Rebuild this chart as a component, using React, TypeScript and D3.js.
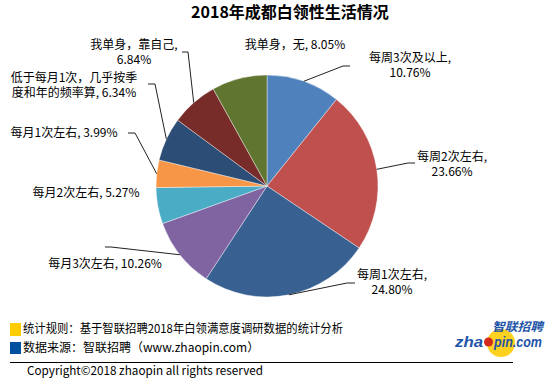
import React from 'react';
import * as d3 from 'd3';

const categories = [
  '每周3次及以上',
  '每周2次左右',
  '每周1次左右',
  '每月3次左右',
  '每月2次左右',
  '每月1次左右',
  '低于每月1次，几乎按季度和年的频率算',
  '我单身，靠自己',
  '我单身，无',
];
const values = [10.76, 23.66, 24.8, 10.26, 5.27, 3.99, 6.34, 6.84, 8.05];
const title = '2018年成都白领性生活情况';
const notes = ['统计规则：基于智联招聘2018年白领满意度调研数据的统计分析', '数据来源：智联招聘（www.zhaopin.com）'];
const copyright = 'Copyright©2018 zhaopin all rights reserved';

const colors = ['#4F81BD', '#C0504D', '#386192', '#8064A2', '#4BACC6', '#F79646', '#2C4D75', '#772C2A', '#5F7530'];

// label layout: center x, first baseline y, break rule, leader start & elbow
type Lay = { x: number; y: number; brk: 'comma' | number | null; leader?: [number, number, number, number] };
const labelLayout: Lay[] = [
  { x: 410, y: 62, brk: 'comma', leader: [350, 66, 343, 66] },
  { x: 452, y: 161, brk: 'comma', leader: [415, 163, 408, 163] },
  { x: 392, y: 279, brk: 'comma', leader: [355, 283, 347, 283] },
  { x: 105, y: 268, brk: null, leader: [105, 247, 111, 247] },
  { x: 86, y: 197, brk: null },
  { x: 64, y: 137, brk: null, leader: [128, 133, 135, 133] },
  { x: 74, y: 82, brk: 11, leader: [148, 84, 155, 84] },
  { x: 134, y: 49, brk: 'comma', leader: [182, 52, 188, 52] },
  { x: 295, y: 49, brk: null },
];

const FONT = '"Noto Sans CJK SC", "Noto Sans", sans-serif';
const LOGO_FONT = "'Liberation Sans', Arial, sans-serif";

export default function App() {
  const cx = 267, cy = 186, r = 111;
  const pie = d3.pie<number>().sort(null).value((d) => d);
  const arcs = pie(values);
  const arc = d3.arc<d3.PieArcDatum<number>>().innerRadius(0).outerRadius(r);

  const labels = arcs.map((a, i) => {
    const text = `${categories[i]}, ${values[i].toFixed(2)}%`;
    const lay = labelLayout[i];
    let lines: string[];
    if (lay.brk === 'comma') {
      const k = text.lastIndexOf(', ');
      lines = [text.slice(0, k + 1), text.slice(k + 2)];
    } else if (typeof lay.brk === 'number') {
      lines = [text.slice(0, lay.brk), text.slice(lay.brk)];
    } else lines = [text];
    const mid = (a.startAngle + a.endAngle) / 2;
    const ex = cx + r * Math.sin(mid);
    const ey = cy - r * Math.cos(mid);
    return { lines, lay, ex, ey };
  });

  return (
    <svg width={554} height={390} style={{ position: 'absolute', left: 0, top: 0, background: '#fff' }} fontFamily={FONT}>
      <rect width={554} height={390} fill="#fff" />
      <text x={290} y={18} textAnchor="middle" fontSize={16} fontWeight="bold" fill="#000">{title}</text>
      <g transform={`translate(${cx},${cy})`}>
        {arcs.map((a, i) => (
          <path key={i} d={arc(a) || ''} fill={colors[i]} stroke="#fff" strokeWidth={0.4} />
        ))}
      </g>
      {labels.map((l, i) => (
        <g key={i}>
          {l.lay.leader && (
            <polyline
              points={`${l.lay.leader[0]},${l.lay.leader[1]} ${l.lay.leader[2]},${l.lay.leader[3]} ${l.ex},${l.ey}`}
              fill="none"
              stroke="#222"
              strokeWidth={1}
            />
          )}
          <text x={l.lay.x} y={l.lay.y} textAnchor="middle" fontSize={12} fill="#000">
            {l.lines.map((s, j) => (
              <tspan key={j} x={l.lay.x} dy={j === 0 ? 0 : 14.5}>{s}</tspan>
            ))}
          </text>
        </g>
      ))}
      {/* notes */}
      <rect x={10} y={323} width={11} height={13} fill="#FFCC00" />
      <rect x={10} y={342} width={11} height={12} fill="#0050A0" />
      <text x={23} y={333} fontSize={12} fill="#000" textLength={320} lengthAdjust="spacingAndGlyphs">{notes[0]}</text>
      <text x={23} y={352} fontSize={12} fill="#000">{notes[1]}</text>
      <line x1={10} x2={513} y1={362.5} y2={362.5} stroke="#000" strokeWidth={1} />
      <text x={27} y={375} fontSize={12} fill="#000" textLength={236} lengthAdjust="spacingAndGlyphs">{copyright}</text>
      {/* logo */}
      <g>
        <circle cx={501} cy={343} r={14} fill="#FFD21F" />
        <circle cx={488.5} cy={342} r={4.5} fill="#D42A1E" />
        <text x={492} y={331} fontSize={12} fontWeight="bold" fontStyle="italic" fill="#1F55A8" textLength={51} lengthAdjust="spacingAndGlyphs">智联招聘</text>
        <text x={455} y={347} fontSize={14} fontWeight="bold" fontStyle="italic" fill="#1F55A8" fontFamily={LOGO_FONT} textLength={28} lengthAdjust="spacingAndGlyphs">zha</text>
        <text x={494} y={347} fontSize={14} fontWeight="bold" fontStyle="italic" fill="#1F55A8" fontFamily={LOGO_FONT} textLength={48} lengthAdjust="spacingAndGlyphs">pin.com</text>
      </g>
    </svg>
  );
}
